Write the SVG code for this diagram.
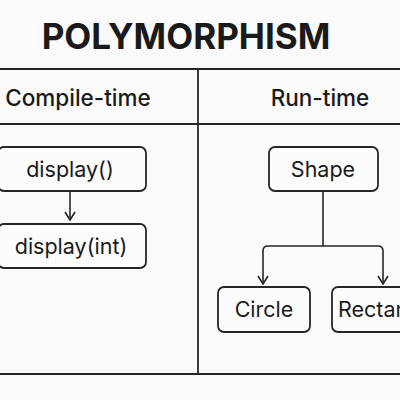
<svg xmlns="http://www.w3.org/2000/svg" width="400" height="400" viewBox="0 0 400 400">
<defs>
<style>
.t{font-family:Inter,"Liberation Sans",sans-serif;fill:#1a1a1a;text-anchor:middle}
.box{fill:#fcfcfc;stroke:#262626;stroke-width:1.8}
.ln{stroke:#262626;stroke-width:1.8;fill:none}
.c{stroke:#262626;stroke-width:1.6;fill:none}
</style>
<marker id="ah" viewBox="0 0 10 12" refX="9" refY="6" markerWidth="10" markerHeight="12" markerUnits="userSpaceOnUse" orient="auto-start-reverse">
<path d="M1 1 L9 6 L1 11" fill="none" stroke="#262626" stroke-width="1.6"/>
</marker>
</defs>
<rect width="400" height="400" fill="#fafafa"/>
<text class="t" x="186" y="49" font-size="35" font-weight="700">POLYMORPHISM</text>
<g id="table">
<line class="ln" x1="0" y1="69" x2="400" y2="69"/>
<line class="ln" x1="0" y1="124" x2="400" y2="124"/>
<line class="ln" x1="0" y1="374" x2="400" y2="374"/>
<line class="ln" x1="198" y1="69" x2="198" y2="374"/>
<text class="t" x="78" y="106" font-size="22.5" font-weight="500">Compile-time</text>
<text class="t" x="320" y="106" font-size="22.5" font-weight="500">Run-time</text>
</g>
<g id="connectors">
<line class="c" x1="70" y1="191" x2="70" y2="220" marker-end="url(#ah)"/>
<line class="c" x1="323" y1="191" x2="323" y2="246"/>
<path class="c" d="M263 284 V251 Q263 246 268 246 H378 Q383 246 383 251 V284" marker-start="url(#ah)" marker-end="url(#ah)"/>
</g>
<g id="n-display">
<rect class="box" x="-2" y="147" width="148" height="44" rx="6"/>
<text class="t" x="70" y="177" font-size="21.5">display()</text>
</g>
<g id="n-display-int">
<rect class="box" x="-2" y="224" width="148" height="44" rx="6"/>
<text class="t" x="71" y="254" font-size="21.5">display(int)</text>
</g>
<g id="n-shape">
<rect class="box" x="269" y="147" width="109" height="44" rx="6"/>
<text class="t" x="323" y="177" font-size="21.5">Shape</text>
</g>
<g id="n-circle">
<rect class="box" x="218" y="287" width="92" height="45" rx="6"/>
<text class="t" x="264" y="317" font-size="21.5">Circle</text>
</g>
<g id="n-rectangle">
<rect class="box" x="332" y="287" width="100" height="45" rx="6"/>
<text class="t" x="338" y="317" font-size="21.5" style="text-anchor:start">Rectangle</text>
</g>
</svg>
